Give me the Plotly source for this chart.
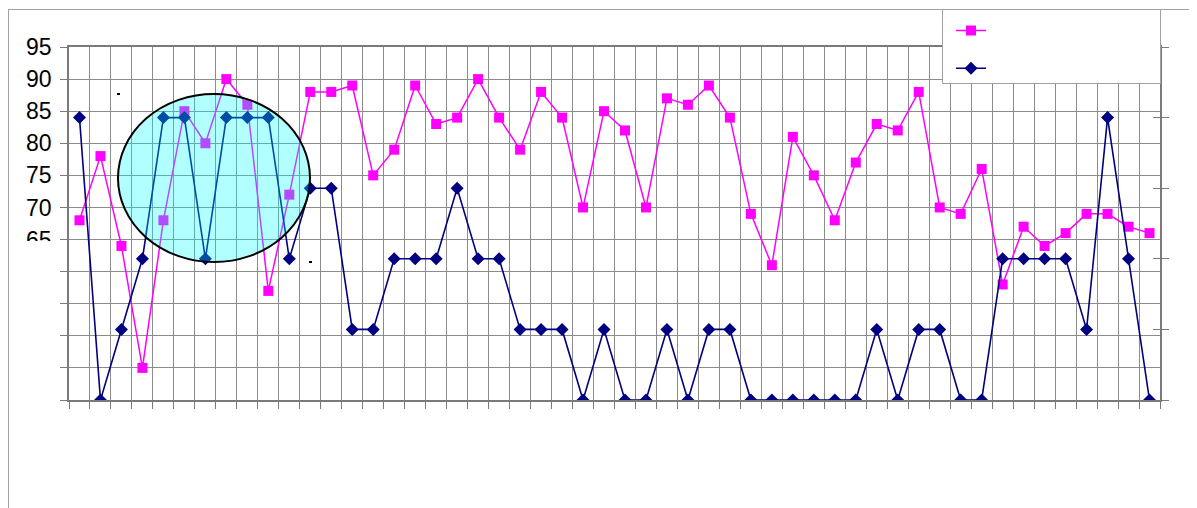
import plotly.graph_objects as go

# ---- data ----
categories = list(range(1, 53))
series_a = [68, 78, 64, 45, 68, 85, 80, 90, 86, 57, 72, 88, 88, 89, 75, 79, 89, 83, 84, 90,
            84, 79, 88, 84, 70, 85, 82, 70, 87, 86, 89, 84, 69, 61, 81, 75, 68, 77, 83, 82,
            88, 70, 69, 76, 58, 67, 64, 66, 69, 69, 67, 66]
series_b = [4, 0, 1, 2, 4, 4, 2, 4, 4, 4, 2, 3, 3, 1, 1, 2, 2, 2, 3, 2,
            2, 1, 1, 1, 0, 1, 0, 0, 1, 0, 1, 1, 0, 0, 0, 0, 0, 0, 1, 0,
            1, 1, 0, 0, 2, 2, 2, 2, 1, 4, 2, 0]
left_ticks = [40, 45, 50, 55, 60, 65, 70, 75, 80, 85, 90, 95]
left_labels = ["", "", "", "", "", "65", "70", "75", "80", "85", "90", "95"]
right_ticks = [0, 1, 2, 3, 4, 5]

W, H = 1197, 508
OFF = 8  # page offset of the figure (body margin)
# plot area in page pixel coordinates
L, R, T, B = 69, 1160, 47, 400


def px(x):
    return (x - L) / (R - L)


def py(y):
    return (B - y) / (B - T)


GRID = "#8c8c8c"
AXIS = "#7a7a7a"
FONT = "Liberation Sans, Arial, sans-serif"

fig = go.Figure()
fig.add_trace(go.Scatter(
    x=categories, y=series_a, mode="lines+markers", yaxis="y",
    name="\u00a0" * 20, legendgroup="a",
    line=dict(color="#ff00ff", width=1.5),
    marker=dict(symbol="square", size=10, color="#ff00ff"),
))
fig.add_trace(go.Scatter(
    x=categories, y=series_b, mode="lines+markers", yaxis="y2",
    name="\u00a0" * 20, legendgroup="b",
    line=dict(color="#000080", width=1.6),
    marker=dict(symbol="diamond", size=10, color="#000080"),
))

shapes = [
    # highlight ellipse
    dict(type="circle", xref="paper", yref="paper", layer="above",
         x0=px(118), x1=px(310), y0=py(262), y1=py(94),
         fillcolor="rgba(0,255,255,0.3)", line=dict(color="black", width=2)),
    # small handle dots
    dict(type="rect", xref="paper", yref="paper", layer="above",
         x0=px(117), x1=px(120), y0=py(95), y1=py(93),
         fillcolor="black", line=dict(width=0)),
    dict(type="rect", xref="paper", yref="paper", layer="above",
         x0=px(309), x1=px(312), y0=py(263), y1=py(261),
         fillcolor="black", line=dict(width=0)),
    # white patch clipping the lower labels
    dict(type="rect", xref="paper", yref="paper", layer="above",
         x0=px(10), x1=px(58), y0=py(300), y1=py(241),
         fillcolor="white", line=dict(width=0)),
    # chart-area border (top and left)
    dict(type="line", xref="paper", yref="paper", layer="above",
         x0=px(8), x1=px(1210), y0=py(9.5), y1=py(9.5),
         line=dict(color="#a0a0a0", width=1)),
    dict(type="line", xref="paper", yref="paper", layer="above",
         x0=px(8.5), x1=px(8.5), y0=py(9), y1=py(530),
         line=dict(color="#a0a0a0", width=1)),
    # legend box
    dict(type="rect", xref="paper", yref="paper", layer="above",
         x0=px(942.5), x1=px(1160.5), y0=py(83.5), y1=py(9.5),
         fillcolor="white", line=dict(color="#a0a0a0", width=1)),
]

fig.update_layout(
    width=W, height=H,
    margin=dict(l=L - OFF, r=W - (R - OFF), t=T - OFF, b=H - (B - OFF),
                autoexpand=False),
    paper_bgcolor="white", plot_bgcolor="white",
    font=dict(family=FONT, size=22, color="black"),
    showlegend=True,
    legend=dict(
        x=px(951), y=py(13.5), xanchor="left", yanchor="top",
        bgcolor="rgba(0,0,0,0)", borderwidth=0,
        font=dict(size=16), traceorder="grouped", tracegroupgap=14,
    ),
    xaxis=dict(
        range=[0.5, 52.5], tickvals=[i + 0.5 for i in range(0, 53)],
        showticklabels=False, ticks="outside", ticklen=7, tickcolor=AXIS,
        showgrid=True, gridcolor=GRID, gridwidth=1,
        showline=True, linecolor=AXIS, linewidth=1.5, mirror=True,
        zeroline=False,
    ),
    yaxis=dict(
        range=[40, 95], tickvals=left_ticks, ticktext=left_labels,
        ticks="outside", ticklen=7, tickcolor=AXIS,
        showgrid=True, gridcolor=GRID, gridwidth=1,
        showline=True, linecolor=AXIS, linewidth=1.5,
        zeroline=False, ticklabelstandoff=4,
        tickfont=dict(size=23, family=FONT, color="black"),
    ),
    yaxis2=dict(
        range=[0, 5], overlaying="y", side="right", anchor="x",
        tickvals=right_ticks, showticklabels=False,
        ticks="outside", ticklen=7, tickcolor=AXIS,
        showgrid=False, showline=True, linecolor=AXIS, linewidth=1.5,
        zeroline=False,
    ),
    yaxis3=dict(
        range=[0, 5], overlaying="y", side="right", anchor="x",
        tickvals=right_ticks, showticklabels=False,
        ticks="inside", ticklen=7, tickcolor=AXIS,
        showgrid=False, showline=False, zeroline=False,
    ),
    shapes=shapes,
)

# invisible helper trace so the inside-tick axis is rendered
fig.add_trace(go.Scatter(x=[categories[0]], y=[0], yaxis="y3", mode="markers",
                         marker=dict(opacity=0), showlegend=False, hoverinfo="skip"))

fig.write_html("out.html")
